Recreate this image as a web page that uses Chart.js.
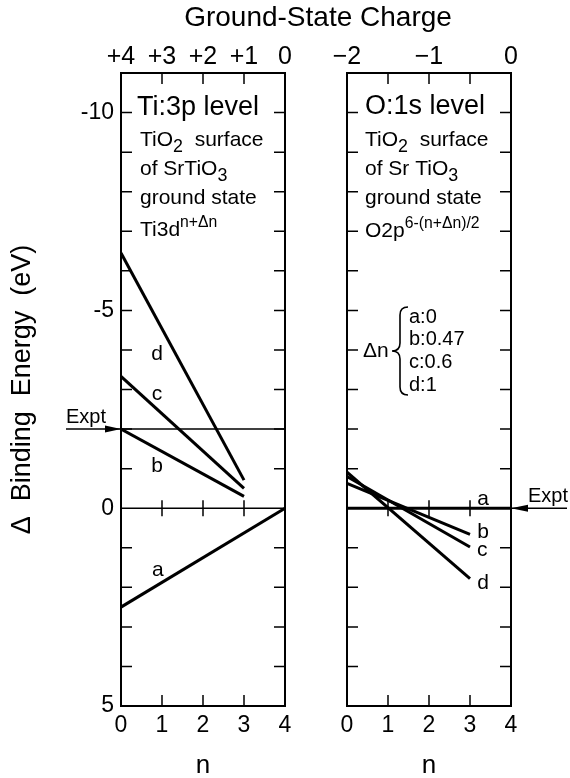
<!DOCTYPE html>
<html>
<head>
<meta charset="utf-8">
<script src="https://cdn.jsdelivr.net/npm/chart.js@4.4.0/dist/chart.umd.min.js"></script>
<style>
  html, body { margin: 0; padding: 0; background: #fff; }
  #wrap { position: relative; width: 570px; height: 778px; }
  #wrap canvas { position: absolute; left: 0; top: 0; }
</style>
</head>
<body>
<div id="wrap">
  <canvas id="ti3p" width="570" height="778"></canvas>
  <canvas id="o1s" width="570" height="778"></canvas>
</div>
<script>
const FONT = '"Liberation Sans", Arial, sans-serif';

// n values at the ends of each line
const fullN = [0, 4];
const partN = [0, 3];

// Ti:3p binding-energy shifts (eV)
const tiA = [2.5, 0];
const tiB = [-2.0, -0.3];
const tiC = [-3.33, -0.5];
const tiD = [-6.45, -0.71];
const tiExpt = -2.0;

// O:1s binding-energy shifts (eV)
const oA = [0, 0];
const oB = [-0.63, 0.66];
const oC = [-0.8, 0.98];
const oD = [-0.91, 1.78];
const oExpt = 0;

// axis ranges and labelled ticks
const energyMin = -11, energyMax = 5;
const energyLabels = [-10, -5, 0, 5];
const nLabels = [0, 1, 2, 3, 4];
const deltaN = ['a:0', 'b:0.47', 'c:0.6', 'd:1'];

const TICK = 11;

function pts(xs, ys) {
  return ys.map((y, i) => ({ x: xs[i], y: y }));
}

function line(label, xs, ys) {
  return {
    label: label,
    data: pts(xs, ys),
    borderColor: '#000',
    borderWidth: 3,
    pointRadius: 0,
    fill: false,
    tension: 0
  };
}

// text with sub/superscript pieces
function drawRich(ctx, x, y, parts, size) {
  let cx = x;
  for (const [txt, mode] of parts) {
    const fs = mode === 'sup' ? size * 0.75 : mode === 'sub' ? size * 0.85 : size;
    const dy = mode === 'sub' ? size * 0.3 : mode === 'sup' ? -size * 0.43 : 0;
    ctx.font = fs + 'px ' + FONT;
    ctx.fillText(txt, cx, y + dy);
    cx += ctx.measureText(txt).width;
  }
}

// frame, inward ticks and the zero line with its cross ticks
const frameTicks = {
  id: 'frameTicks',
  afterDatasetsDraw(chart) {
    const { ctx, chartArea: a, scales } = chart;
    ctx.save();
    ctx.strokeStyle = '#000';
    ctx.lineWidth = 1.5;
    ctx.beginPath();
    const inner = (s, t) => t.value !== s.min && t.value !== s.max;
    scales.x.ticks.filter(t => inner(scales.x, t)).forEach(t => {
      const px = scales.x.getPixelForValue(t.value);
      ctx.moveTo(px, a.bottom); ctx.lineTo(px, a.bottom - TICK);
    });
    scales.top.ticks.filter(t => inner(scales.top, t)).forEach(t => {
      const px = scales.top.getPixelForValue(t.value);
      ctx.moveTo(px, a.top); ctx.lineTo(px, a.top + TICK);
    });
    scales.y.ticks.filter(t => inner(scales.y, t)).forEach(t => {
      const py = scales.y.getPixelForValue(t.value);
      ctx.moveTo(a.left, py); ctx.lineTo(a.left + TICK, py);
      ctx.moveTo(a.right, py); ctx.lineTo(a.right - TICK, py);
    });
    const y0 = scales.y.getPixelForValue(0);
    ctx.moveTo(a.left, y0); ctx.lineTo(a.right, y0);
    scales.x.ticks.filter(t => inner(scales.x, t)).forEach(t => {
      const px = scales.x.getPixelForValue(t.value);
      ctx.moveTo(px, y0 - 8); ctx.lineTo(px, y0 + 8);
    });
    ctx.stroke();
    ctx.lineWidth = 2;
    ctx.strokeRect(a.left, a.top, a.right - a.left, a.bottom - a.top);
    ctx.restore();
  }
};

// experimental level: thin line, arrow at the panel edge, "Expt" label
const exptMark = {
  id: 'exptMark',
  afterDatasetsDraw(chart, args, opts) {
    const { ctx, chartArea: a, scales } = chart;
    const py = scales.y.getPixelForValue(opts.value);
    ctx.save();
    ctx.strokeStyle = '#000';
    ctx.fillStyle = '#000';
    ctx.lineWidth = 1.5;
    ctx.beginPath();
    let tip, back, lx;
    if (opts.side === 'left') {
      ctx.moveTo(a.left - 55, py); ctx.lineTo(a.right, py);
      tip = a.left; back = a.left - 16; lx = a.left - 55;
    } else {
      ctx.moveTo(a.left, py); ctx.lineTo(a.right + 56, py);
      tip = a.right; back = a.right + 17; lx = a.right + 17;
    }
    ctx.stroke();
    ctx.beginPath();
    ctx.moveTo(tip, py);
    ctx.lineTo(back, py - 3.5);
    ctx.lineTo(back, py + 3.5);
    ctx.closePath();
    ctx.fill();
    ctx.font = '20px ' + FONT;
    ctx.textBaseline = 'middle';
    ctx.textAlign = 'left';
    ctx.fillText('Expt', lx, py - 12);
    ctx.restore();
  }
};

// panel notes, line letters and extra page text
const notes = {
  id: 'notes',
  afterDraw(chart, args, opts) {
    const { ctx, chartArea: a, scales } = chart;
    ctx.save();
    ctx.fillStyle = '#000';
    ctx.strokeStyle = '#000';
    ctx.textBaseline = 'alphabetic';
    ctx.textAlign = 'left';
    (opts.text || []).forEach(t => drawRich(ctx, a.left + t.dx, a.top + t.dy, t.parts, t.size));
    ctx.textAlign = 'center';
    ctx.textBaseline = 'middle';
    ctx.font = '21px ' + FONT;
    (opts.letters || []).forEach(l => {
      ctx.fillText(l.text, scales.x.getPixelForValue(l.n), scales.y.getPixelForValue(l.e));
    });
    if (opts.title) {
      ctx.font = '28px ' + FONT;
      ctx.fillText('Ground-State Charge', 318, 18);
    }
    if (opts.legend) {
      const lx = a.left + 16, cy = a.top + 278;
      ctx.textAlign = 'left';
      ctx.font = '21px ' + FONT;
      ctx.fillText('\u0394n', lx, cy);
      // curly brace
      const bx = lx + 29, top = cy - 44, bot = cy + 44;
      ctx.lineWidth = 1.6;
      ctx.beginPath();
      ctx.moveTo(bx + 16, top);
      ctx.quadraticCurveTo(bx + 8, top, bx + 8, top + 8);
      ctx.lineTo(bx + 8, cy - 8);
      ctx.quadraticCurveTo(bx + 8, cy, bx, cy);
      ctx.quadraticCurveTo(bx + 8, cy, bx + 8, cy + 8);
      ctx.lineTo(bx + 8, bot - 8);
      ctx.quadraticCurveTo(bx + 8, bot, bx + 16, bot);
      ctx.stroke();
      ctx.font = '20px ' + FONT;
      deltaN.forEach((s, i) => ctx.fillText(s, bx + 17, top + 10 + i * 22.7));
    }
    ctx.restore();
  }
};

function panelScales(left, topAxis) {
  const tickFont = { family: FONT, size: 23 };
  const noGrid = { display: false, drawTicks: false };
  return {
    x: {
      type: 'linear', position: 'bottom', min: 0, max: 4,
      grid: noGrid, border: { display: false },
      ticks: {
        stepSize: 1, padding: 6, color: '#000', font: tickFont, maxRotation: 0,
        callback: v => nLabels.includes(v) ? String(v) : ''
      },
      title: { display: true, text: 'n', color: '#000', font: { family: FONT, size: 26 }, padding: { top: 0, bottom: -3 } },
      afterFit: s => { s.height = 72; }
    },
    top: Object.assign({
      type: 'linear', position: 'top',
      grid: noGrid, border: { display: false },
      afterFit: s => { s.height = 73; }
    }, topAxis),
    y: {
      type: 'linear', position: 'left', reverse: true, min: energyMin, max: energyMax,
      grid: noGrid, border: { display: false },
      ticks: {
        display: left, stepSize: 1, padding: 7, color: '#000', font: tickFont,
        callback: v => energyLabels.includes(v) ? String(v) : ''
      },
      title: {
        display: left, text: '\u0394  Binding  Energy  (eV)', color: '#000',
        font: { family: FONT, size: 27 }, padding: { top: 6, bottom: 0 }
      },
      afterFit: s => { s.width = left ? 121 : 347; }
    }
  };
}

const baseOpts = {
  responsive: false,
  animation: false,
  events: [],
  plugins: { legend: { display: false }, tooltip: { enabled: false } }
};

new Chart(document.getElementById('ti3p'), {
  type: 'line',
  data: {
    datasets: [
      line('a', fullN, tiA),
      line('b', partN, tiB),
      line('c', partN, tiC),
      line('d', partN, tiD)
    ]
  },
  options: Object.assign({}, baseOpts, {
    layout: { padding: { left: 0, right: 285, top: 0, bottom: 0 } },
    scales: panelScales(true, {
      min: 0, max: 4, reverse: true,
      ticks: {
        stepSize: 1, padding: 1, color: '#000', font: { family: FONT, size: 25 },
        callback: v => v > 0 ? '+' + v : String(v)
      }
    }),
    plugins: Object.assign({}, baseOpts.plugins, {
      exptMark: { value: tiExpt, side: 'left' },
      notes: {
        title: true,
        text: [
          { dx: 16, dy: 42, size: 27, parts: [['Ti:3p level']] },
          { dx: 19, dy: 73, size: 21, parts: [['TiO'], ['2', 'sub'], ['  surface']] },
          { dx: 19, dy: 102, size: 21, parts: [['of SrTiO'], ['3', 'sub']] },
          { dx: 19, dy: 131, size: 21, parts: [['ground state']] },
          { dx: 19, dy: 163, size: 21, parts: [['Ti3d'], ['n+\u0394n', 'sup']] }
        ],
        letters: [
          { text: 'd', n: 0.88, e: -3.9 },
          { text: 'c', n: 0.88, e: -2.88 },
          { text: 'b', n: 0.88, e: -1.05 },
          { text: 'a', n: 0.9, e: 1.57 }
        ]
      }
    })
  }),
  plugins: [frameTicks, exptMark, notes]
});

new Chart(document.getElementById('o1s'), {
  type: 'line',
  data: {
    datasets: [
      line('a', fullN, oA),
      line('b', partN, oB),
      line('c', partN, oC),
      line('d', partN, oD)
    ]
  },
  options: Object.assign({}, baseOpts, {
    layout: { padding: { left: 0, right: 59, top: 0, bottom: 0 } },
    scales: panelScales(false, {
      min: -2, max: 0,
      ticks: {
        stepSize: 0.5, padding: 1, color: '#000', font: { family: FONT, size: 25 },
        callback: v => Number.isInteger(v) ? (v < 0 ? '\u2212' + Math.abs(v) : '0') : ''
      }
    }),
    plugins: Object.assign({}, baseOpts.plugins, {
      exptMark: { value: oExpt, side: 'right' },
      notes: {
        legend: true,
        text: [
          { dx: 18, dy: 41, size: 27, parts: [['O:1s level']] },
          { dx: 18, dy: 73, size: 21, parts: [['TiO'], ['2', 'sub'], ['  surface']] },
          { dx: 18, dy: 102, size: 21, parts: [['of Sr TiO'], ['3', 'sub']] },
          { dx: 18, dy: 131, size: 21, parts: [['ground state']] },
          { dx: 18, dy: 164, size: 21, parts: [['O2p'], ['6-(n+\u0394n)/2', 'sup']] }
        ],
        letters: [
          { text: 'a', n: 3.32, e: -0.23 },
          { text: 'b', n: 3.32, e: 0.61 },
          { text: 'c', n: 3.3, e: 1.06 },
          { text: 'd', n: 3.32, e: 1.9 }
        ]
      }
    })
  }),
  plugins: [frameTicks, exptMark, notes]
});
</script>
</body>
</html>
